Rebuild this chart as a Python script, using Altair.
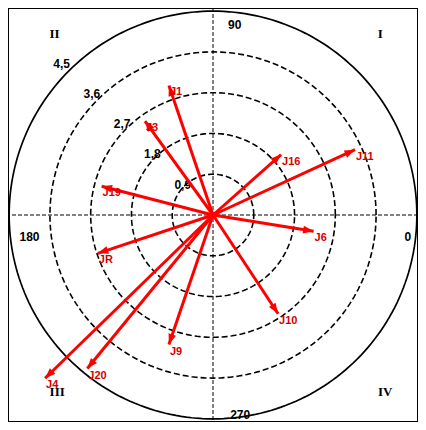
import altair as alt
import numpy as np
import pandas as pd

# --- data ---
labels = ["J1", "J3", "J19", "J16", "J11", "J6", "J10", "JR", "J9", "J20", "J4"]
radius = [3.02, 2.56, 2.54, 2.01, 3.45, 2.25, 2.61, 2.68, 3.02, 4.38, 5.17]
angle_deg = [108.8, 125.9, 165.5, 41.6, 24.7, 350.8, 303.4, 198.4, 251.2, 230.7, 224.2]

ring_values = [0.9, 1.8, 2.7, 3.6, 4.5]
ring_labels = ["0,9", "1,8", "2,7", "3,6", "4,5"]
angle_labels = ["0", "90", "180", "270"]
angle_label_pos = [(4.3, -0.48), (0.48, 4.2), (-4.05, -0.48), (0.6, -4.42)]
quad_labels = ["I", "II", "III", "IV"]
quad_label_pos = [(3.69, 4.0), (-3.5, 4.0), (-3.44, -3.9), (3.8, -3.9)]

W, H = 410, 414
PX = 45.3
XD = W / 2 / PX
YD = H / 2 / PX

xs = alt.Scale(domain=[-XD, XD], nice=False, zero=False)
ys = alt.Scale(domain=[-YD, YD], nice=False, zero=False)

th = np.deg2rad(angle_deg)
vec = pd.DataFrame({
    "label": labels,
    "x": np.array(radius) * np.cos(th),
    "y": np.array(radius) * np.sin(th),
    "ang": (90 - np.array(angle_deg)) % 360,
})
vec["x0"] = 0.0
vec["y0"] = 0.0

# ring outlines (grid)
t = np.linspace(0, 2 * np.pi, 241)
rows = []
for r in ring_values:
    for i, tt in enumerate(t):
        rows.append({"r": r, "i": i, "x": r * np.cos(tt), "y": r * np.sin(tt)})
rings = pd.DataFrame(rows)

X = lambda f: alt.X(f, type="quantitative", scale=xs, axis=None)
Y = lambda f: alt.Y(f, type="quantitative", scale=ys, axis=None)

dashed = alt.Chart(rings[rings.r < 4.5]).mark_line(
    color="black", strokeWidth=1.6, strokeDash=[6, 3]
).encode(x=X("x"), y=Y("y"), detail="r:N", order="i:Q")

outer = alt.Chart(rings[rings.r == 4.5]).mark_line(
    color="black", strokeWidth=1.7
).encode(x=X("x"), y=Y("y"), detail="r:N", order="i:Q")

one = pd.DataFrame({"v": [0]})
vline = alt.Chart(one).mark_rule(color="black", strokeWidth=1, strokeDash=[4, 2]).encode(x=X("v"))
hline = alt.Chart(one).mark_rule(color="black", strokeWidth=1, strokeDash=[4, 2]).encode(y=Y("v"))

rl = pd.DataFrame({
    "t": ring_labels,
    "x": [-r * 1.05 * np.cos(np.pi / 4) for r in ring_values],
    "y": [r * 1.05 * np.sin(np.pi / 4) for r in ring_values],
})
ring_text = alt.Chart(rl).mark_text(
    font="Liberation Sans", fontSize=12, fontWeight="bold", color="black"
).encode(x=X("x"), y=Y("y"), text="t:N")

al = pd.DataFrame({"t": angle_labels,
                   "x": [p[0] for p in angle_label_pos],
                   "y": [p[1] for p in angle_label_pos]})
ang_text = alt.Chart(al).mark_text(
    font="Liberation Sans", fontSize=12, fontWeight="bold", color="black"
).encode(x=X("x"), y=Y("y"), text="t:N")

ql = pd.DataFrame({"t": quad_labels,
                   "x": [p[0] for p in quad_label_pos],
                   "y": [p[1] for p in quad_label_pos]})
quad_text = alt.Chart(ql).mark_text(
    font="Liberation Serif", fontSize=13, fontWeight="bold", color="black"
).encode(x=X("x"), y=Y("y"), text="t:N")

shafts = alt.Chart(vec).mark_rule(color="#ff0000", strokeWidth=3).encode(
    x=X("x0"), y=Y("y0"), x2="x", y2="y"
)
heads = alt.Chart(vec).mark_point(
    shape="M0,0L-0.75,2L0.75,2Z", filled=True, color="#ff0000", opacity=1, size=110
).encode(x=X("x"), y=Y("y"), angle=alt.Angle("ang:Q", scale=None))

vec_text = alt.Chart(vec).mark_text(
    font="Liberation Sans", fontSize=11, fontWeight="bold", color="#d40000",
    align="left", baseline="middle", dx=1, dy=7
).encode(x=X("x"), y=Y("y"), text="label:N")

chart = alt.layer(
    dashed, outer, vline, hline, ring_text, ang_text, shafts, heads, vec_text, quad_text
).properties(width=W, height=H, padding=0, autosize="none").configure_view(
    stroke="black", strokeWidth=2
)

chart.save("out.html", embed_options={"renderer": "svg", "actions": False})
